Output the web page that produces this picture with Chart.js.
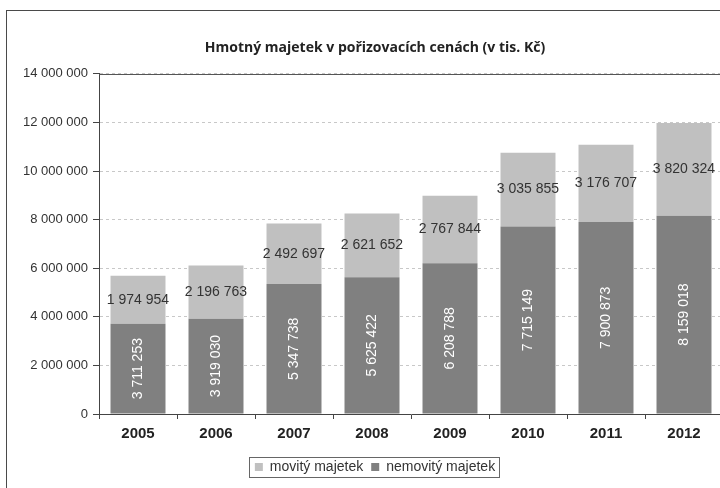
<!DOCTYPE html>
<html>
<head>
<meta charset="utf-8">
<script src="https://cdn.jsdelivr.net/npm/chart.js@4/dist/chart.umd.min.js"></script>
<style>
  html, body { margin: 0; padding: 0; background: #fff; overflow: hidden; }
  #frame { position: absolute; left: 6px; top: 10px; width: 760px; height: 500px; border: 1px solid #4a4a4a; }
</style>
</head>
<body>
<div id="frame"><canvas id="myChart" width="760" height="500"></canvas></div>
<script>
const roky = ['2005', '2006', '2007', '2008', '2009', '2010', '2011', '2012'];
const nemovity = [3711253, 3919030, 5347738, 5625422, 6208788, 7715149, 7900873, 8159018];
const movity = [1974954, 2196763, 2492697, 2621652, 2767844, 3035855, 3176707, 3820324];

// mezery jako oddělovač tisíců
const fmt = v => String(v).replace(/\B(?=(\d{3})+(?!\d))/g, ' ');

const segLabels = {
    id: 'segLabels',
    afterDatasetsDraw(chart) {
        const ctx = chart.ctx;
        chart.data.datasets.forEach((ds, di) => {
            chart.getDatasetMeta(di).data.forEach((bar, i) => {
                const mid = (bar.y + bar.base) / 2;
                ctx.save();
                ctx.font = '14px "Liberation Sans", Arial, sans-serif';
                ctx.textAlign = 'center';
                ctx.textBaseline = 'middle';
                if (di === 0) {
                    ctx.translate(bar.x, mid);
                    ctx.rotate(-Math.PI / 2);
                    ctx.fillStyle = '#ffffff';
                    ctx.fillText(fmt(ds.data[i]), 0, 0);
                } else {
                    ctx.fillStyle = '#333333';
                    ctx.fillText(fmt(ds.data[i]), bar.x, mid);
                }
                ctx.restore();
            });
        });
    }
};

const frameLines = {
    id: 'frameLines',
    afterDraw(chart) {
        const ctx = chart.ctx;
        const a = chart.chartArea;
        ctx.save();
        ctx.strokeStyle = '#555';
        ctx.lineWidth = 1;
        ctx.beginPath();
        ctx.moveTo(a.left, Math.round(a.top) + 0.5);
        ctx.lineTo(a.right, Math.round(a.top) + 0.5);
        ctx.stroke();
        // rámeček kolem legendy
        const hb = chart.legend.legendHitBoxes;
        if (hb && hb.length) {
            const l = Math.min(...hb.map(b => b.left)) - 6;
            const r = Math.max(...hb.map(b => b.left + b.width)) + 4;
            const t = Math.min(...hb.map(b => b.top)) - 3;
            const btm = Math.max(...hb.map(b => b.top + b.height)) + 3;
            ctx.strokeStyle = '#666';
            ctx.strokeRect(Math.round(l) + 0.5, Math.round(t) + 0.5, Math.round(r - l), Math.round(btm - t));
        }
        ctx.restore();
    }
};

const ctx = document.getElementById('myChart');

new Chart(ctx, {
    type: 'bar',
    data: {
        labels: roky,
        datasets: [{
            label: 'nemovitý majetek',
            data: nemovity,
            backgroundColor: '#808080',
            borderWidth: 0
        }, {
            label: 'movitý majetek',
            data: movity,
            backgroundColor: '#c0c0c0',
            borderWidth: 0
        }]
    },
    options: {
        responsive: false,
        animation: false,
        layout: { padding: { left: 0, right: 24, top: 0, bottom: 27 } },
        datasets: { bar: { categoryPercentage: 1, barPercentage: 0.705 } },
        scales: {
            x: {
                stacked: true,
                grid: { drawOnChartArea: false, offset: true, tickLength: 5, tickColor: '#444' },
                border: { color: '#444' },
                ticks: { color: '#222', padding: 6, font: { family: '"Liberation Sans", Arial', size: 15, weight: 'bold' } },
                afterFit(scale) { scale.height = 38; }
            },
            y: {
                stacked: true,
                min: 0,
                max: 14000000,
                ticks: {
                    stepSize: 2000000,
                    color: '#333',
                    padding: 5,
                    font: { family: '"Liberation Sans", Arial', size: 13 },
                    callback: v => fmt(v)
                },
                grid: { color: '#c8c8c8', tickLength: 6, tickColor: '#444' },
                border: { color: '#444', dash: [3, 3] },
                afterFit(scale) { scale.width = 92; }
            },
            // prázdná pravá osa jen kvůli vycentrování nadpisu
            yR: {
                position: 'right',
                grid: { display: false },
                ticks: { display: false },
                border: { display: false },
                afterFit(scale) { scale.width = 20; }
            }
        },
        plugins: {
            title: {
                display: true,
                text: 'Hmotný majetek v pořizovacích cenách (v tis. Kč)',
                color: '#222',
                font: { family: '"Open Sans"', size: 14, weight: 'bold' },
                padding: { top: 29, bottom: 17 }
            },
            legend: {
                position: 'bottom',
                reverse: true,
                labels: {
                    boxWidth: 8,
                    boxHeight: 8,
                    padding: 8,
                    color: '#333',
                    font: { family: '"Liberation Sans", Arial', size: 14 }
                }
            },
            tooltip: { enabled: false }
        }
    },
    plugins: [segLabels, frameLines]
});
</script>
</body>
</html>
